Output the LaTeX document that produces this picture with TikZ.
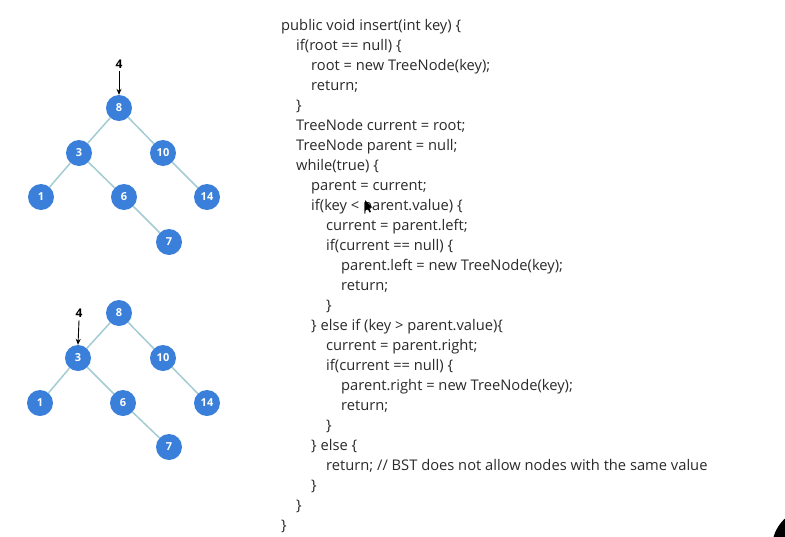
\documentclass[tikz,border=0pt]{standalone}
\usepackage{fontspec}
\setmainfont{Open Sans}
\usetikzlibrary{arrows.meta}
\begin{document}
\begin{tikzpicture}[x=1pt,y=-1pt,
  bnode/.style={circle,fill=nodeblue,minimum size=26pt,inner sep=0pt,text=white,font=\fontsize{11}{13}\selectfont\bfseries},
  edge/.style={draw=edgecol,line width=1.5pt},
  keylab/.style={font=\fontsize{12}{14}\selectfont\bfseries,inner sep=0pt},
  keyarrow/.style={-{Stealth[length=6pt,width=5pt]},line width=0.9pt},
  code/.style={anchor=base west,inner sep=0pt,font=\fontsize{14.7}{16}\selectfont,text=codecol}]
\definecolor{nodeblue}{HTML}{3A80DA}
\definecolor{edgecol}{HTML}{A3CCD3}
\definecolor{codecol}{HTML}{2A2A2A}
\useasboundingbox (0,0) rectangle (785,536);
\fill[white] (0,0) rectangle (785,536);
% tree 1
\node[bnode] (a8) at (119,108) {8};
\node[bnode] (a3) at (79,153) {3};
\node[bnode] (a10) at (163,153) {10};
\node[bnode] (a1) at (41,197) {1};
\node[bnode] (a6) at (124,197) {6};
\node[bnode] (a14) at (207,197) {14};
\node[bnode] (a7) at (169,242) {7};
\draw[edge] (a8) -- (a3);
\draw[edge] (a8) -- (a10);
\draw[edge] (a3) -- (a1);
\draw[edge] (a3) -- (a6);
\draw[edge] (a10) -- (a14);
\draw[edge] (a6) -- (a7);
\node[keylab] (ka) at (119,64) {4};
\draw[keyarrow] (ka.south) ++(0,3) coordinate (kas) (kas) -- (a8.north);
% tree 2
\node[bnode] (b8) at (119,313) {8};
\node[bnode] (b3) at (78,358) {3};
\node[bnode] (b10) at (163,358) {10};
\node[bnode] (b1) at (40,403) {1};
\node[bnode] (b6) at (123,403) {6};
\node[bnode] (b14) at (207,403) {14};
\node[bnode] (b7) at (169,447) {7};
\draw[edge] (b8) -- (b3);
\draw[edge] (b8) -- (b10);
\draw[edge] (b3) -- (b1);
\draw[edge] (b3) -- (b6);
\draw[edge] (b10) -- (b14);
\draw[edge] (b6) -- (b7);
\node[keylab] (kb) at (79,313) {4};
\draw[keyarrow] (kb.south) ++(0,3) coordinate (kbs) (kbs) -- (b3.north);
% code
\foreach \ind/\yy/\txt [count=\i] in {
 0/25/{public void insert(int key) \{},
 1/45/{if(root == null) \{},
 2/65/{root = new TreeNode(key);},
 2/85/{return;},
 1/105/{\}},
 1/125/{TreeNode current = root;},
 1/145/{TreeNode parent = null;},
 1/165/{while(true) \{},
 2/185/{parent = current;},
 2/205/{if(key < parent.value) \{},
 3/225/{current = parent.left;},
 3/245/{if(current == null) \{},
 4/265/{parent.left = new TreeNode(key);},
 4/285/{return;},
 3/305/{\}},
 2/325/{\} else if (key > parent.value)\{},
 3/345/{current = parent.right;},
 3/365/{if(current == null) \{},
 4/385/{parent.right = new TreeNode(key);},
 4/405/{return;},
 3/425/{\}},
 2/445/{\} else \{},
 3/465/{return; // BST does not allow nodes with the same value},
 2/485/{\}},
 1/505/{\}},
 0/525/{\}}}
 \node[code] (c\i) at (281+15*\ind,\yy+5) {\txt};
% cursor
\fill[black] (365,200) -- (365,211) -- (367.5,208.5) -- (369.5,212.5) -- (371,211.8) -- (369,207.8) -- (372.5,207.5) -- cycle;
% corner blob
\begin{scope}
\clip (0,0) rectangle (785,536);
\fill[black] (812,548) circle (40);
\end{scope}
\end{tikzpicture}
\end{document}
